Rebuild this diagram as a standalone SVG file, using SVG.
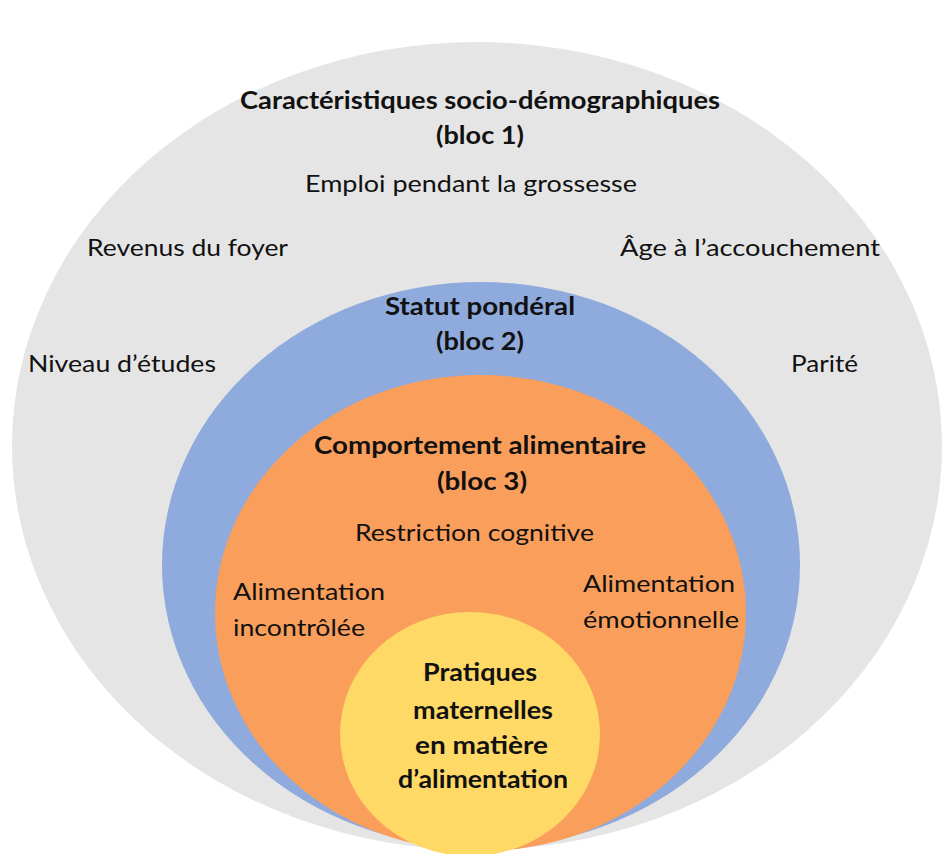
<svg xmlns="http://www.w3.org/2000/svg" width="942" height="854" viewBox="0 0 942 854">
<style>
text{font-family:Lato,"Open Sans","Liberation Sans",sans-serif;font-size:24px;fill:#111;}
.b{font-weight:bold;}
.c{text-anchor:middle;}
</style>
<rect width="942" height="854" fill="#fff"/>
<g id="bloc1">
<ellipse cx="477" cy="446" rx="465" ry="404" fill="#E5E5E5"/>
<text class="b c" x="480" y="109" textLength="480" lengthAdjust="spacingAndGlyphs">Caractéristiques socio-démographiques</text>
<text class="b c" x="480" y="144" textLength="88" lengthAdjust="spacingAndGlyphs">(bloc 1)</text>
<text class="c" x="471" y="192" textLength="332" lengthAdjust="spacingAndGlyphs">Emploi pendant la grossesse</text>
<text class="c" x="187.5" y="256" textLength="201" lengthAdjust="spacingAndGlyphs">Revenus du foyer</text>
<text class="c" x="750" y="256" textLength="260" lengthAdjust="spacingAndGlyphs">Âge à l’accouchement</text>
<text class="c" x="122" y="372" textLength="188" lengthAdjust="spacingAndGlyphs">Niveau d’études</text>
<text class="c" x="824.5" y="372" textLength="67" lengthAdjust="spacingAndGlyphs">Parité</text>
</g>
<g id="bloc2">
<ellipse cx="481" cy="565" rx="319" ry="283" fill="#8FAADC"/>
<text class="b c" x="480" y="315" textLength="190" lengthAdjust="spacingAndGlyphs">Statut pondéral</text>
<text class="b c" x="480" y="350" textLength="88" lengthAdjust="spacingAndGlyphs">(bloc 2)</text>
</g>
<g id="bloc3">
<ellipse cx="480.5" cy="613" rx="265.5" ry="238" fill="#FA9E5B"/>
<text class="b c" x="480" y="454" textLength="332" lengthAdjust="spacingAndGlyphs">Comportement alimentaire</text>
<text class="b c" x="482" y="490" textLength="90" lengthAdjust="spacingAndGlyphs">(bloc 3)</text>
<text class="c" x="474.5" y="541" textLength="239" lengthAdjust="spacingAndGlyphs">Restriction cognitive</text>
<text x="233" y="600" textLength="152" lengthAdjust="spacingAndGlyphs">Alimentation</text>
<text x="233" y="636" textLength="132" lengthAdjust="spacingAndGlyphs">incontrôlée</text>
<text x="583" y="592" textLength="152" lengthAdjust="spacingAndGlyphs">Alimentation</text>
<text x="583" y="628" textLength="156" lengthAdjust="spacingAndGlyphs">émotionnelle</text>
</g>
<g id="pratiques">
<ellipse cx="470" cy="734" rx="130" ry="122" fill="#FFD966"/>
<text class="b c" x="480" y="681" textLength="114" lengthAdjust="spacingAndGlyphs">Pratiques</text>
<text class="b c" x="483" y="719" textLength="140" lengthAdjust="spacingAndGlyphs">maternelles</text>
<text class="b c" x="481.5" y="754" textLength="133" lengthAdjust="spacingAndGlyphs">en matière</text>
<text class="b c" x="483" y="788" textLength="170" lengthAdjust="spacingAndGlyphs">d’alimentation</text>
</g>
</svg>
